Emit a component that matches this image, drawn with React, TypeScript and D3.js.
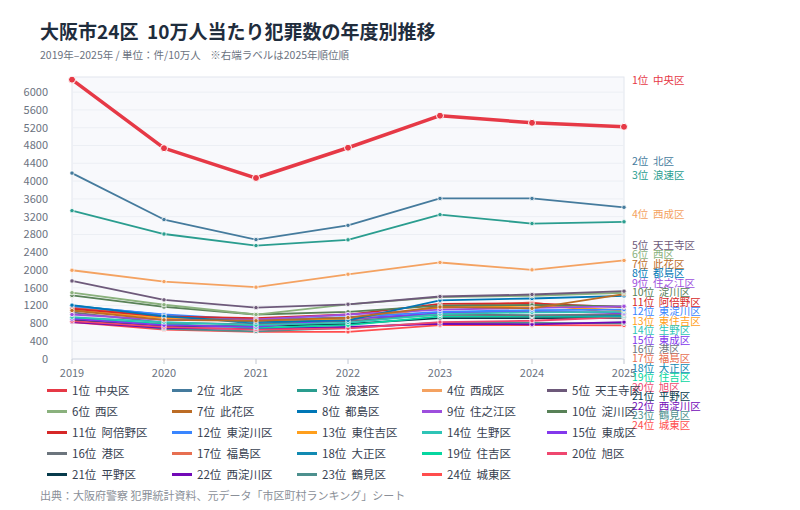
import { useEffect, useRef } from 'react'
import * as d3 from 'd3'

const years = [2019, 2020, 2021, 2022, 2023, 2024, 2025]

// wards listed in 2025 rank order
const wards = [
  '中央区', '北区', '浪速区', '西成区', '天王寺区', '西区', '此花区', '都島区',
  '住之江区', '淀川区', '阿倍野区', '東淀川区', '東住吉区', '生野区', '東成区', '港区',
  '福島区', '大正区', '住吉区', '旭区', '平野区', '西淀川区', '鶴見区', '城東区',
]

const colors = [
  '#e63946', '#457b9d', '#2a9d8f', '#f4a261', '#6d597a', '#8ab17d', '#bc6c25', '#0077b6',
  '#9d4edd', '#588157', '#d62828', '#3a86ff', '#ff9f1c', '#2ec4b6', '#8338ec', '#6c757d',
  '#e76f51', '#118ab2', '#06d6a0', '#ef476f', '#073b4c', '#7209b7', '#4d908e', '#ff4d4d',
]

// crimes per 100k, 2019..2025
const rates = [
  [6280, 4740, 4070, 4750, 5470, 5310, 5220],
  [4180, 3135, 2685, 3005, 3610, 3610, 3410],
  [3335, 2810, 2550, 2680, 3245, 3045, 3085],
  [1995, 1740, 1615, 1905, 2170, 2005, 2215],
  [1755, 1330, 1155, 1230, 1405, 1450, 1525],
  [1490, 1220, 1000, 1230, 1390, 1420, 1490],
  [1090, 880, 860, 930, 1170, 1140, 1460],
  [1210, 960, 830, 870, 1320, 1360, 1420],
  [1000, 880, 890, 1000, 1110, 1150, 1185],
  [1430, 1170, 1000, 1060, 1200, 1215, 1180],
  [1130, 960, 920, 1000, 1240, 1250, 1165],
  [1190, 1000, 880, 940, 1060, 1100, 1110],
  [1100, 920, 870, 900, 1150, 1200, 1090],
  [940, 830, 760, 820, 1010, 1050, 1060],
  [900, 760, 720, 900, 1030, 1080, 1030],
  [1050, 820, 780, 850, 1000, 980, 1010],
  [1160, 950, 890, 870, 1180, 1270, 1000],
  [1200, 990, 790, 900, 1010, 980, 975],
  [920, 790, 700, 760, 960, 960, 955],
  [850, 720, 660, 690, 830, 860, 940],
  [880, 740, 740, 790, 920, 920, 925],
  [830, 700, 680, 720, 790, 780, 830],
  [910, 680, 620, 700, 820, 810, 800],
  [830, 660, 610, 610, 760, 760, 755],
]

const yTicks = d3.range(0, 6001, 400)

const FONT = '"Noto Sans CJK JP", "Noto Sans", sans-serif'

export default function App() {
  const ref = useRef<SVGSVGElement | null>(null)

  useEffect(() => {
    document.body.style.margin = '0'
    if (!ref.current) return
    const svg = d3.select(ref.current)
    svg.selectAll('*').remove()

    const left = 72
    const right = 624
    const top = 77
    const bottom = 359

    const x = d3.scaleLinear().domain([2019, 2025]).range([left, right])
    const y = d3.scaleLinear().domain([0, 6340]).range([bottom, top])

    svg.append('rect').attr('width', 800).attr('height', 510).attr('fill', '#fff')

    svg.append('text')
      .attr('x', 40).attr('y', 39)
      .attr('font-size', 19).attr('font-weight', 700)
      .attr('fill', '#1f2d3d')
      .style('white-space', 'pre')
      .text('大阪市24区  10万人当たり犯罪数の年度別推移')

    svg.append('text')
      .attr('x', 40).attr('y', 59)
      .attr('font-size', 10.5)
      .attr('fill', '#6b7280')
      .style('white-space', 'pre')
      .text('2019年–2025年 / 単位：件/10万人    ※右端ラベルは2025年順位順')

    // plot area
    svg.append('rect')
      .attr('x', left).attr('y', top)
      .attr('width', right - left).attr('height', bottom - top)
      .attr('fill', '#f8f9fc')
      .attr('stroke', '#e2e6ee')

    const grid = svg.append('g')
    yTicks.forEach((t) => {
      if (t === 0) return
      grid.append('line')
        .attr('x1', left).attr('x2', right)
        .attr('y1', y(t)).attr('y2', y(t))
        .attr('stroke', '#eceff4')
    })

    svg.append('g')
      .selectAll('text')
      .data(yTicks)
      .join('text')
      .attr('x', 48)
      .attr('y', (d) => y(d))
      .attr('dy', '0.35em')
      .attr('text-anchor', 'end')
      .attr('font-size', 11)
      .attr('fill', '#6b7280')
      .text((d) => d)

    // x axis
    svg.append('line')
      .attr('x1', left).attr('x2', right)
      .attr('y1', bottom).attr('y2', bottom)
      .attr('stroke', '#d5dae3')
    years.forEach((yr) => {
      svg.append('line')
        .attr('x1', x(yr)).attr('x2', x(yr))
        .attr('y1', bottom).attr('y2', bottom + 5)
        .attr('stroke', '#c4cad4')
      svg.append('text')
        .attr('x', x(yr)).attr('y', bottom + 14)
        .attr('dy', '0.35em')
        .attr('text-anchor', 'middle')
        .attr('font-size', 11)
        .attr('fill', '#6b7280')
        .text(yr)
    })

    const line = d3.line<number>()
      .x((_, i) => x(years[i]))
      .y((d) => y(d))

    // draw lowest ranks first so 中央区 sits on top
    const order = d3.range(wards.length).reverse()
    order.forEach((k) => {
      const main = k === 0
      const g = svg.append('g')
      g.append('path')
        .datum(rates[k])
        .attr('d', line)
        .attr('fill', 'none')
        .attr('stroke', colors[k])
        .attr('stroke-width', main ? 3.5 : 1.8)
        .attr('stroke-linejoin', 'round')
      g.selectAll('circle')
        .data(rates[k])
        .join('circle')
        .attr('cx', (_, i) => x(years[i]))
        .attr('cy', (d) => y(d))
        .attr('r', main ? 3.5 : 2.2)
        .attr('fill', colors[k])
        .attr('stroke', '#fff')
        .attr('stroke-width', main ? 1 : 0.8)
    })

    // right-end labels, 2025 rank order, pushed apart
    const last = years.length - 1
    let prev = -Infinity
    wards.forEach((w, k) => {
      const ly = Math.max(y(rates[k][last]) - 46, prev + 9.47)
      prev = ly
      svg.append('text')
        .attr('x', 632).attr('y', ly)
        .attr('dy', '0.35em')
        .attr('font-size', 10.5)
        .attr('fill', colors[k])
        .style('white-space', 'pre')
        .text(`${k + 1}位  ${w}`)
    })

    // legend
    wards.forEach((w, k) => {
      const col = k % 5
      const row = Math.floor(k / 5)
      const lx = 47 + col * 125
      const ly = 390.5 + row * 21
      svg.append('line')
        .attr('x1', lx).attr('x2', lx + 20)
        .attr('y1', ly).attr('y2', ly)
        .attr('stroke', colors[k])
        .attr('stroke-width', 3)
      svg.append('text')
        .attr('x', lx + 25).attr('y', ly)
        .attr('dy', '0.35em')
        .attr('font-size', 11.5)
        .attr('fill', '#374151')
        .style('white-space', 'pre')
        .text(`${k + 1}位  ${w}`)
    })

    svg.append('text')
      .attr('x', 40).attr('y', 496)
      .attr('dy', '0.35em')
      .attr('font-size', 11)
      .attr('fill', '#8a8f98')
      .text('出典：大阪府警察 犯罪統計資料、元データ「市区町村ランキング」シート')
  }, [])

  return (
    <svg
      ref={ref}
      width={800}
      height={510}
      style={{ display: 'block', fontFamily: FONT }}
    />
  )
}
